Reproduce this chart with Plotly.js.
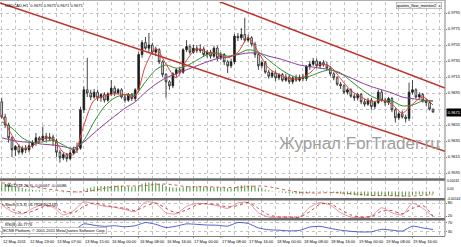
<!DOCTYPE html>
<html><head><meta charset="utf-8">
<script src="https://cdn.plot.ly/plotly-3.0.1.min.js"></script>
<style>html,body{margin:0;padding:0;background:#fff}#chart{width:461px;height:247px}</style>
</head><body><div id="chart"></div>
<script>
const symbolTitle = "USDCAD,H1  0.9675 0.9675 0.9671 0.9671";
const panelTag = "quotes_flow_monitor2  x";
const watermark = "Журнал ForTrader.ru";
const macdLabel = "MACD(12,26,9) -0.00067 -0.00086";
const stochLabel = "Stoch(5,3,3) 16.7928 20.1435";
const rsiLabel = "RSI(8) 40.7776";
const copyright = "ECN8 Platform, © 2001-2011 MetaQuotes Software Corp.";

const open = [0.9684,0.9665,0.9655,0.9639,0.9624,0.9628,0.9621,0.9626,0.9624,0.9629,
0.9633,0.9639,0.9636,0.9641,0.9638,0.9640,0.9635,0.9621,0.9614,0.9618,
0.9613,0.9620,0.9624,0.9626,0.9674,0.9699,0.9695,0.9690,0.9696,0.9689,
0.9693,0.9686,0.9694,0.9701,0.9695,0.9699,0.9690,0.9686,0.9693,0.9688,
0.9699,0.9743,0.9758,0.9751,0.9755,0.9746,0.9749,0.9734,0.9718,0.9709,
0.9704,0.9719,0.9724,0.9721,0.9749,0.9753,0.9746,0.9751,0.9748,0.9750,
0.9743,0.9746,0.9741,0.9751,0.9739,0.9743,0.9734,0.9729,0.9734,0.9766,
0.9764,0.9768,0.9761,0.9764,0.9756,0.9743,0.9729,0.9733,0.9721,0.9716,
0.9720,0.9714,0.9718,0.9711,0.9715,0.9709,0.9714,0.9711,0.9715,0.9713,
0.9728,0.9731,0.9735,0.9729,0.9733,0.9730,0.9726,0.9719,0.9714,0.9706,
0.9704,0.9696,0.9699,0.9691,0.9689,0.9693,0.9684,0.9681,0.9686,0.9678,
0.9683,0.9696,0.9686,0.9683,0.9688,0.9674,0.9664,0.9669,0.9665,0.9663,
0.9696,0.9699,0.9690,0.9693,0.9685,0.9683,0.9675];
const high = [0.9689,0.9669,0.9658,0.9641,0.9630,0.9631,0.9629,0.9630,0.9633,0.9636,
0.9645,0.9641,0.9653,0.9645,0.9645,0.9643,0.9638,0.9624,0.9621,0.9620,
0.9624,0.9628,0.9633,0.9678,0.9703,0.9739,0.9699,0.9700,0.9699,0.9695,
0.9696,0.9696,0.9711,0.9704,0.9701,0.9701,0.9693,0.9695,0.9695,0.9701,
0.9746,0.9761,0.9765,0.9770,0.9758,0.9753,0.9751,0.9736,0.9720,0.9711,
0.9721,0.9726,0.9728,0.9751,0.9761,0.9756,0.9755,0.9755,0.9756,0.9753,
0.9749,0.9749,0.9754,0.9754,0.9746,0.9745,0.9736,0.9738,0.9769,0.9770,
0.9776,0.9789,0.9768,0.9766,0.9759,0.9745,0.9736,0.9735,0.9724,0.9723,
0.9723,0.9720,0.9720,0.9719,0.9718,0.9716,0.9718,0.9718,0.9719,0.9730,
0.9735,0.9739,0.9738,0.9735,0.9736,0.9734,0.9729,0.9721,0.9716,0.9709,
0.9706,0.9701,0.9701,0.9694,0.9695,0.9695,0.9688,0.9689,0.9689,0.9685,
0.9699,0.9699,0.9689,0.9690,0.9690,0.9676,0.9671,0.9673,0.9668,0.9708,
0.9711,0.9701,0.9696,0.9695,0.9688,0.9685,0.9675];
const low = [0.9663,0.9651,0.9633,0.9615,0.9616,0.9618,0.9618,0.9620,0.9621,0.9626,
0.9629,0.9633,0.9635,0.9633,0.9635,0.9629,0.9615,0.9608,0.9611,0.9609,
0.9611,0.9618,0.9620,0.9624,0.9670,0.9690,0.9686,0.9688,0.9685,0.9684,
0.9683,0.9684,0.9691,0.9691,0.9693,0.9688,0.9683,0.9684,0.9685,0.9685,
0.9696,0.9739,0.9749,0.9746,0.9743,0.9741,0.9731,0.9715,0.9689,0.9699,
0.9701,0.9715,0.9718,0.9719,0.9746,0.9743,0.9744,0.9745,0.9745,0.9740,
0.9739,0.9738,0.9739,0.9735,0.9736,0.9730,0.9720,0.9726,0.9731,0.9760,
0.9761,0.9758,0.9758,0.9753,0.9739,0.9724,0.9726,0.9719,0.9713,0.9714,
0.9710,0.9711,0.9709,0.9709,0.9706,0.9706,0.9709,0.9709,0.9710,0.9710,
0.9724,0.9729,0.9726,0.9726,0.9728,0.9724,0.9716,0.9711,0.9704,0.9700,
0.9694,0.9693,0.9689,0.9685,0.9686,0.9681,0.9678,0.9679,0.9674,0.9675,
0.9681,0.9684,0.9679,0.9680,0.9671,0.9658,0.9661,0.9663,0.9658,0.9660,
0.9693,0.9688,0.9688,0.9683,0.9679,0.9673,0.9671];
const close = [0.9665,0.9655,0.9639,0.9624,0.9628,0.9621,0.9626,0.9624,0.9629,0.9633,
0.9639,0.9636,0.9641,0.9638,0.9640,0.9635,0.9621,0.9614,0.9618,0.9613,
0.9620,0.9624,0.9626,0.9674,0.9699,0.9695,0.9690,0.9696,0.9689,0.9693,
0.9686,0.9694,0.9701,0.9695,0.9699,0.9690,0.9686,0.9693,0.9688,0.9699,
0.9743,0.9758,0.9751,0.9755,0.9746,0.9749,0.9734,0.9718,0.9709,0.9704,
0.9719,0.9724,0.9721,0.9749,0.9753,0.9746,0.9751,0.9748,0.9750,0.9743,
0.9746,0.9741,0.9751,0.9739,0.9743,0.9734,0.9729,0.9734,0.9766,0.9764,
0.9768,0.9761,0.9764,0.9756,0.9743,0.9729,0.9733,0.9721,0.9716,0.9720,
0.9714,0.9718,0.9711,0.9715,0.9709,0.9714,0.9711,0.9715,0.9713,0.9728,
0.9731,0.9735,0.9729,0.9733,0.9730,0.9726,0.9719,0.9714,0.9706,0.9704,
0.9696,0.9699,0.9691,0.9689,0.9693,0.9684,0.9681,0.9686,0.9678,0.9683,
0.9696,0.9686,0.9683,0.9688,0.9674,0.9664,0.9669,0.9665,0.9663,0.9696,
0.9699,0.9690,0.9693,0.9685,0.9683,0.9675,0.9671];

// indicator lines sampled every 3 bars
const sampleBars = [0,3,6,9,12,15,18,21,24,27,30,33,36,39,42,45,48,51,54,57,60,63,66,69,72,75,78,81,84,87,90,93,96,99,102,105,108,111,114,117,120,123,126];
const maFast = [0.9668,0.9642,0.9626,0.9629,0.9638,0.9638,0.9621,0.9618,0.9655,0.9686,0.9691,0.9694,0.9693,0.9691,0.9729,0.9751,0.9731,0.9714,0.9736,0.9750,0.9746,0.9744,0.9739,0.9746,0.9764,0.9746,0.9726,0.9718,0.9713,0.9713,0.9720,0.9731,0.9728,0.9713,0.9698,0.9690,0.9684,0.9686,0.9681,0.9670,0.9681,0.9690,0.9680];
const maMid = [0.9659,0.9651,0.9639,0.9633,0.9634,0.9636,0.9630,0.9624,0.9636,0.9659,0.9678,0.9689,0.9693,0.9693,0.9709,0.9724,0.9730,0.9726,0.9729,0.9736,0.9743,0.9745,0.9741,0.9744,0.9749,0.9746,0.9736,0.9726,0.9718,0.9714,0.9716,0.9721,0.9724,0.9720,0.9710,0.9700,0.9691,0.9686,0.9685,0.9679,0.9680,0.9685,0.9685];
const maSlow = [0.9639,0.9636,0.9634,0.9633,0.9631,0.9630,0.9628,0.9626,0.9634,0.9645,0.9656,0.9666,0.9676,0.9684,0.9696,0.9706,0.9714,0.9719,0.9724,0.9729,0.9734,0.9738,0.9740,0.9743,0.9745,0.9745,0.9741,0.9738,0.9734,0.9730,0.9728,0.9726,0.9724,0.9719,0.9714,0.9708,0.9703,0.9699,0.9695,0.9690,0.9688,0.9686,0.9685];
const macdSignal = [0.0022,0.0020,0.0016,0.0012,0.0008,0.0004,0.0001,-0.0001,-0.0001,0.0003,0.0008,0.0012,0.0014,0.0014,0.0015,0.0018,0.0019,0.0016,0.0012,0.0012,0.0012,0.0011,0.0010,0.0010,0.0012,0.0014,0.0012,0.0007,0.0002,-0.0002,-0.0004,-0.0004,-0.0003,-0.0004,-0.0006,-0.0008,-0.0010,-0.0011,-0.0011,-0.0012,-0.0012,-0.0010,-0.0009];
const stochMain = [71,40,30,55,72,60,25,45,85,75,65,60,50,40,85,78,35,30,65,78,75,68,55,80,82,35,15,14,15,15,60,82,70,35,15,13,20,58,35,25,78,55,17];
const stochSignal = [75,52,35,42,62,66,40,35,65,80,70,62,55,45,65,80,55,35,48,72,77,72,62,68,82,55,25,16,15,15,40,75,76,50,25,15,17,42,45,30,55,68,20];
const rsi = [52,32,35,40,47,44,30,36,66,60,55,58,53,58,72,64,50,56,66,64,61,60,56,72,68,48,40,38,35,37,52,55,46,38,33,30,31,42,38,34,56,48,41];

const macdHist = [0.0020,0.0019,0.0017,0.0015,0.0013,0.0011,0.0009,0.0007,0.0005,0.0004,
0.0003,0.0003,0.0002,0.0002,0.0002,0.0001,0.0000,-0.0001,-0.0002,-0.0002,
-0.0003,-0.0003,-0.0003,0.0001,0.0005,0.0008,0.0010,0.0012,0.0013,0.0014,
0.0014,0.0014,0.0015,0.0015,0.0015,0.0014,0.0013,0.0012,0.0012,0.0012,
0.0016,0.0020,0.0022,0.0023,0.0023,0.0022,0.0020,0.0017,0.0014,0.0011,
0.0010,0.0010,0.0009,0.0011,0.0013,0.0013,0.0013,0.0013,0.0013,0.0012,
0.0012,0.0011,0.0011,0.0010,0.0010,0.0009,0.0008,0.0008,0.0011,0.0014,
0.0016,0.0016,0.0016,0.0015,0.0013,0.0010,0.0008,0.0005,0.0003,0.0001,
-0.0001,-0.0002,-0.0003,-0.0004,-0.0005,-0.0005,-0.0006,-0.0006,-0.0006,-0.0005,
-0.0004,-0.0003,-0.0002,-0.0002,-0.0002,-0.0002,-0.0003,-0.0004,-0.0005,-0.0006,
-0.0007,-0.0008,-0.0009,-0.0010,-0.0010,-0.0011,-0.0011,-0.0011,-0.0012,-0.0012,
-0.0011,-0.0011,-0.0011,-0.0011,-0.0012,-0.0013,-0.0013,-0.0013,-0.0013,-0.0010,
-0.0009,-0.0008,-0.0008,-0.0008,-0.0008,-0.0008,-0.0007];

// channel trend lines (bar index, price)
const channelLowerBars = [-0.5, 129.5];
const channelLowerPrice = [0.98075, 0.96220];
const channelUpperBars = [60, 129.5];
const channelUpperPrice = [0.98151, 0.97013];

const priceTicks = [0.9795,0.9775,0.9755,0.9735,0.9715,0.9695,0.9675,0.9655,0.9635,0.9615,0.9595];
const gridBars = [0,4,8,12,16,20,24,28,32,36,40,44,48,52,56,60,64,68,72,76,80,84,88,92,96,100,104,108,112,116,120,124,128];
const timeTickBars = [0,8,16,24,32,40,48,56,64,72,80,88,96,104,112,120];
const timeTickLabels = ["12 May 2011","12 May 23:00","13 May 07:00","13 May 15:00","16 May 00:00","16 May 08:00","16 May 16:00","17 May 00:00","17 May 08:00","17 May 16:00","18 May 00:00","18 May 08:00","18 May 16:00","19 May 00:00","19 May 08:00","19 May 16:00"];
const macdScale = [0.00242, 0.00, -0.00144];
const macdScaleText = ["0.00242", "0.00", "-0.00144"];

const bars = close.map((_, i) => i);
const lastClose = close[close.length - 1];
const F = "Liberation Sans, Arial, sans-serif";
const fs = 4;

const traces = [
  {type:'candlestick', x:bars, open:open, high:high, low:low, close:close, xaxis:'x', yaxis:'y',
   increasing:{line:{color:'#1a1a1a', width:0.8}, fillcolor:'#1a1a1a'},
   decreasing:{line:{color:'#1a1a1a', width:0.8}, fillcolor:'#ffffff'},
   whiskerwidth:0, hoverinfo:'skip'},
  {type:'scatter', mode:'lines', x:sampleBars, y:maSlow, yaxis:'y', line:{color:'#8b3a9b', width:1, shape:'spline', smoothing:0.8}, hoverinfo:'skip'},
  {type:'scatter', mode:'lines', x:sampleBars, y:maMid, yaxis:'y', line:{color:'#2f8f2f', width:1, shape:'spline', smoothing:0.8}, hoverinfo:'skip'},
  {type:'scatter', mode:'lines', x:sampleBars, y:maFast, yaxis:'y', line:{color:'#e0403a', width:1, shape:'spline', smoothing:0.8}, hoverinfo:'skip'},
  {type:'scatter', mode:'lines', x:channelLowerBars, y:channelLowerPrice, yaxis:'y', line:{color:'#c0302a', width:1.5}, hoverinfo:'skip'},
  {type:'scatter', mode:'lines', x:channelUpperBars, y:channelUpperPrice, yaxis:'y', line:{color:'#c0302a', width:1.5}, hoverinfo:'skip'},
  {type:'bar', x:bars, y:macdHist, yaxis:'y2', width:0.3, marker:{color:'#4f9a3f', line:{width:0}}, hoverinfo:'skip'},
  {type:'scatter', mode:'lines', x:sampleBars, y:macdSignal, yaxis:'y2', line:{color:'#d03030', width:0.8, dash:'dot', shape:'spline'}, hoverinfo:'skip'},
  {type:'scatter', mode:'lines', x:sampleBars, y:stochMain, yaxis:'y3', line:{color:'#e07a8a', width:0.8, shape:'spline', smoothing:0.7}, hoverinfo:'skip'},
  {type:'scatter', mode:'lines', x:sampleBars, y:stochSignal, yaxis:'y3', line:{color:'#b02020', width:0.8, dash:'dot', shape:'spline', smoothing:0.7}, hoverinfo:'skip'},
  {type:'scatter', mode:'lines', x:sampleBars, y:rsi, yaxis:'y4', line:{color:'#3a50c8', width:0.9, shape:'spline', smoothing:0.6}, hoverinfo:'skip'}
];

const H = 236; // plot height in px
const py = v => (H - v) / H;

const gridStyle = {showgrid:true, gridcolor:'#c4c4c4', griddash:'dot', gridwidth:1};
const layout = {
  width:461, height:247, margin:{l:0, r:16, t:0, b:11},
  paper_bgcolor:'#fff', plot_bgcolor:'#fff', showlegend:false, hovermode:false,
  font:{family:F, size:fs, color:'#000'},
  xaxis:Object.assign({range:[-0.5,129.5], anchor:'y4', tickmode:'array', tickvals:gridBars, showticklabels:false,
    ticks:'', zeroline:false, showline:true, linecolor:'#808080', linewidth:1, rangeslider:{visible:false}, fixedrange:true}, gridStyle),
  yaxis:Object.assign({domain:[py(178), py(2)], range:[0.958875, 0.980875], side:'right', anchor:'x',
    tickmode:'array', tickvals:priceTicks,
    ticktext:priceTicks.map(v => Math.abs(v - lastClose) < 0.0006 ? '' : v.toFixed(4)),
    ticks:'outside', ticklen:1, tickcolor:'#808080', tickfont:{size:fs}, zeroline:false, fixedrange:true}, gridStyle),
  yaxis2:{domain:[py(198), py(181)], range:[-0.0017, 0.00268], side:'right', anchor:'x', showticklabels:false,
    showgrid:false, zeroline:false, fixedrange:true},
  yaxis3:Object.assign({domain:[py(218), py(200)], range:[10.77, 93.85], side:'right', anchor:'x', tickmode:'array',
    tickvals:[80,20], ticks:'outside', ticklen:1, tickcolor:'#808080', tickfont:{size:fs}, zeroline:false, fixedrange:true}, gridStyle),
  yaxis4:Object.assign({domain:[py(236), py(220)], range:[12.2, 83.3], side:'right', anchor:'x', tickmode:'array',
    tickvals:[70,30], ticks:'outside', ticklen:1, tickcolor:'#808080', tickfont:{size:fs}, zeroline:false, fixedrange:true}, gridStyle),
  shapes:[
    {type:'line', xref:'paper', yref:'paper', x0:0, x1:1, y0:py(179.5), y1:py(179.5), line:{color:'#6a6a6a', width:2.5}},
    {type:'line', xref:'paper', yref:'paper', x0:0, x1:1, y0:py(199.2), y1:py(199.2), line:{color:'#6a6a6a', width:2.5}},
    {type:'line', xref:'paper', yref:'paper', x0:0, x1:1, y0:py(219.2), y1:py(219.2), line:{color:'#6a6a6a', width:2.5}},
    {type:'line', xref:'paper', yref:'paper', x0:1, x1:1, y0:0, y1:1, line:{color:'#808080', width:1}},
    {type:'line', xref:'paper', yref:'paper', x0:0, x1:1, y0:py(0.5), y1:py(0.5), line:{color:'#b0b0b0', width:1}}
  ],
  annotations:[]
};

const A = layout.annotations;
A.push({xref:'paper', yref:'paper', x:0.006, y:py(5.5), xanchor:'left', yanchor:'middle', text:symbolTitle, showarrow:false, font:{size:fs}});
A.push({xref:'paper', yref:'paper', x:0.993, y:py(5.5), xanchor:'right', yanchor:'middle', text:panelTag, showarrow:false, font:{size:fs},
  bordercolor:'#9a9a9a', borderwidth:0.6, borderpad:0.5, bgcolor:'#f4f4f4'});
A.push({xref:'paper', yref:'paper', x:0.623, y:py(144), xanchor:'left', yanchor:'middle', text:watermark, showarrow:false,
  font:{size:17, color:'#a0a0a0', family:F}});
A.push({xref:'paper', yref:'paper', x:0.006, y:py(185), xanchor:'left', yanchor:'middle', text:macdLabel, showarrow:false, font:{size:fs}});
A.push({xref:'paper', yref:'paper', x:0.006, y:py(204), xanchor:'left', yanchor:'middle', text:stochLabel, showarrow:false, font:{size:fs}});
A.push({xref:'paper', yref:'paper', x:0.006, y:py(224), xanchor:'left', yanchor:'middle', text:rsiLabel, showarrow:false, font:{size:fs}});
A.push({xref:'paper', yref:'paper', x:0.004, y:py(230.5), xanchor:'left', yanchor:'middle', text:copyright, showarrow:false, font:{size:fs},
  bordercolor:'#9a9a9a', borderwidth:0.6, borderpad:0.6, bgcolor:'#ffffff'});
A.push({xref:'paper', yref:'y', x:1.003, y:lastClose, xanchor:'left', yanchor:'middle', text:lastClose.toFixed(4), showarrow:false,
  font:{size:fs, color:'#ffffff'}, bgcolor:'#000000', borderpad:0.8});
macdScale.forEach((v, i) => {
  A.push({xref:'paper', yref:'y2', x:1.002, y:v, xanchor:'left', yanchor: i === 0 ? 'top' : (i === 1 ? 'bottom' : 'top'),
    yshift: i === 0 ? 4 : (i === 1 ? -1 : 1), text:macdScaleText[i], showarrow:false, font:{size:3.4}, borderpad:0});
});
timeTickBars.forEach((b, i) => {
  A.push({xref:'x', yref:'paper', x:b, y:py(241.5), xanchor:'left', yanchor:'middle', xshift:-1, text:timeTickLabels[i], showarrow:false, font:{size:fs}});
  layout.shapes.push({type:'line', xref:'x', yref:'paper', x0:b, x1:b, y0:0, y1:py(238), line:{color:'#808080', width:1}});
});

Plotly.newPlot('chart', traces, layout, {staticPlot:true, displayModeBar:false});
</script>
</body></html>
